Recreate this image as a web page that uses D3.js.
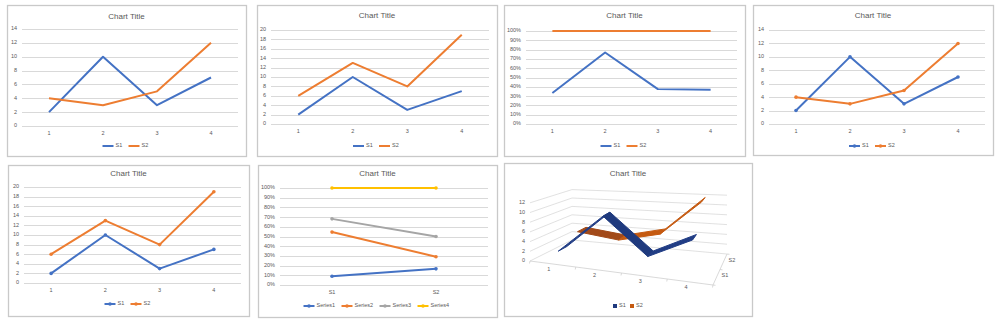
<!DOCTYPE html>
<html><head><meta charset="utf-8">
<script src="https://cdn.jsdelivr.net/npm/d3@7"></script>
<style>html,body{margin:0;padding:0;background:#fff;}svg{display:block;}</style>
</head><body>
<script>
// ---------- data ----------
const categories = ["1", "2", "3", "4"];
const seriesNames = ["S1", "S2"];
const s1Values = [2, 10, 3, 7];
const s2Values = [4, 3, 5, 12];
const byRowSeriesNames = ["Series1", "Series2", "Series3", "Series4"];
const ticks14 = [0, 2, 4, 6, 8, 10, 12, 14];
const ticks20 = [0, 2, 4, 6, 8, 10, 12, 14, 16, 18, 20];
const ticksPct = [0, 0.1, 0.2, 0.3, 0.4, 0.5, 0.6, 0.7, 0.8, 0.9, 1.0];
const ticks3D = [0, 2, 4, 6, 8, 10, 12];
const colors = ["#4472C4", "#ED7D31", "#A5A5A5", "#FFC000"];
const titleText = "Chart Title";

const FONT = "'Liberation Sans', Arial, sans-serif";
const TXT = "#595959";
const GRID = "#d9d9d9";

const svg = d3.select("body").append("svg").attr("width", 1000).attr("height", 324);
svg.append("rect").attr("width", 1000).attr("height", 324).attr("fill", "#fff");

const rows = categories.map((c, i) => ({cat: c, S1: s1Values[i], S2: s2Values[i]}));
const stackAbs = d3.stack().keys(seriesNames)(rows);
const stackPct = d3.stack().keys(seriesNames).offset(d3.stackOffsetExpand)(rows);
const rowsByRow = seriesNames.map((n, r) => {
  const vals = r === 0 ? s1Values : s2Values;
  const o = {cat: n};
  byRowSeriesNames.forEach((k, j) => o[k] = vals[j]);
  return o;
});
const stackByRow = d3.stack().keys(byRowSeriesNames).offset(d3.stackOffsetExpand)(rowsByRow);

function panelFrame(p) {
  svg.append("rect").attr("x", p.x + 0.5).attr("y", p.y + 0.5).attr("width", p.w).attr("height", p.h)
    .attr("fill", "#fff").attr("stroke", "#c9c9c9").attr("stroke-width", 1.3);
  svg.append("text").attr("x", p.x + p.w / 2).attr("y", p.titleY).attr("text-anchor", "middle")
    .attr("dominant-baseline", "middle").attr("font-family", FONT).attr("font-size", 8).attr("fill", TXT)
    .text(titleText);
}

function legend(p, names, cols, cy, itemW, kind) {
  const n = names.length;
  const total = n * itemW - 8;
  const x0 = p.x + p.w / 2 - total / 2 - 2;
  names.forEach((name, i) => {
    const x = x0 + i * itemW;
    if (kind === "square") {
      svg.append("rect").attr("x", x).attr("y", cy - 2).attr("width", 4).attr("height", 4).attr("fill", cols[i]);
      svg.append("text").attr("x", x + 6).attr("y", cy).attr("dominant-baseline", "middle")
        .attr("font-family", FONT).attr("font-size", 5.5).attr("fill", TXT).text(name);
      return;
    }
    svg.append("line").attr("x1", x).attr("x2", x + 11).attr("y1", cy).attr("y2", cy)
      .attr("stroke", cols[i]).attr("stroke-width", 2);
    if (kind === "marker") {
      svg.append("circle").attr("cx", x + 5.5).attr("cy", cy).attr("r", 1.8).attr("fill", cols[i]);
    }
    svg.append("text").attr("x", x + 13).attr("y", cy).attr("dominant-baseline", "middle")
      .attr("font-family", FONT).attr("font-size", 5.5).attr("fill", TXT).text(name);
  });
}

function lineChart(cfg) {
  const p = cfg.panel;
  panelFrame(p);
  const x = d3.scalePoint().domain(cfg.cats).range([cfg.plot.x0, cfg.plot.x1]).padding(0.5);
  const y = d3.scaleLinear().domain(cfg.yDomain).range([cfg.plot.yb, cfg.plot.yt]);
  const g = svg.append("g");
  g.selectAll("line.grid").data(cfg.ticks).enter().append("line")
    .attr("x1", cfg.plot.x0).attr("x2", cfg.plot.x1)
    .attr("y1", d => Math.round(y(d)) + 0.5).attr("y2", d => Math.round(y(d)) + 0.5)
    .attr("stroke", GRID).attr("stroke-width", 1);
  g.selectAll("text.yl").data(cfg.ticks).enter().append("text")
    .attr("x", cfg.plot.x0 - 5).attr("y", d => y(d)).attr("text-anchor", "end")
    .attr("dominant-baseline", "middle").attr("font-family", FONT).attr("font-size", 5.5).attr("fill", TXT)
    .text(cfg.fmt);
  g.selectAll("text.xl").data(cfg.cats).enter().append("text")
    .attr("x", d => x(d)).attr("y", cfg.plot.yb + 8).attr("text-anchor", "middle")
    .attr("dominant-baseline", "middle").attr("font-family", FONT).attr("font-size", 5.5).attr("fill", TXT)
    .text(d => d);
  const line = d3.line().x((d, i) => x(cfg.cats[i])).y(d => y(d));
  cfg.series.forEach((s) => {
    g.append("path").attr("d", line(s.values)).attr("fill", "none").attr("stroke", s.color)
      .attr("stroke-width", 2).attr("stroke-linejoin", "round");
    if (cfg.markers) {
      g.selectAll(null).data(s.values).enter().append("circle")
        .attr("cx", (d, i) => x(cfg.cats[i])).attr("cy", d => y(d)).attr("r", 1.8).attr("fill", s.color);
    }
  });
  legend(p, cfg.series.map(s => s.name), cfg.series.map(s => s.color), cfg.legendY, cfg.itemW,
         cfg.markers ? "marker" : "line");
}

const fmtNum = d => d3.format("d")(d);
const fmtPct = d => d3.format(".0%")(d);

lineChart({panel: {x: 7, y: 5, w: 239, h: 151, titleY: 17}, plot: {x0: 22, x1: 238, yt: 29, yb: 126},
  cats: categories, yDomain: [0, 14], ticks: ticks14, fmt: fmtNum, legendY: 146, itemW: 26,
  series: [{name: seriesNames[0], values: s1Values, color: colors[0]}, {name: seriesNames[1], values: s2Values, color: colors[1]}]});
lineChart({panel: {x: 257, y: 5, w: 240, h: 151, titleY: 16}, plot: {x0: 271, x1: 489, yt: 30, yb: 124},
  cats: categories, yDomain: [0, 20], ticks: ticks20, fmt: fmtNum, legendY: 146, itemW: 26,
  series: stackAbs.map((s, i) => ({name: s.key, values: s.map(d => d[1]), color: colors[i]}))});
lineChart({panel: {x: 504, y: 5, w: 241, h: 151, titleY: 16}, plot: {x0: 526, x1: 737, yt: 31, yb: 124},
  cats: categories, yDomain: [0, 1], ticks: ticksPct, fmt: fmtPct, legendY: 146, itemW: 26,
  series: stackPct.map((s, i) => ({name: s.key, values: s.map(d => d[1]), color: colors[i]}))});
lineChart({panel: {x: 753, y: 5, w: 240, h: 150, titleY: 16}, plot: {x0: 769, x1: 985, yt: 30, yb: 124},
  cats: categories, yDomain: [0, 14], ticks: ticks14, fmt: fmtNum, legendY: 146, itemW: 26, markers: true,
  series: [{name: seriesNames[0], values: s1Values, color: colors[0]}, {name: seriesNames[1], values: s2Values, color: colors[1]}]});
lineChart({panel: {x: 8, y: 165, w: 241, h: 151, titleY: 174}, plot: {x0: 24, x1: 241, yt: 187, yb: 283},
  cats: categories, yDomain: [0, 20], ticks: ticks20, fmt: fmtNum, legendY: 304, itemW: 26, markers: true,
  series: stackAbs.map((s, i) => ({name: s.key, values: s.map(d => d[1]), color: colors[i]}))});
lineChart({panel: {x: 258, y: 165, w: 239, h: 152, titleY: 174}, plot: {x0: 280, x1: 488, yt: 188, yb: 285},
  cats: seriesNames, yDomain: [0, 1], ticks: ticksPct, fmt: fmtPct, legendY: 306, itemW: 38, markers: true,
  series: stackByRow.map((s, i) => ({name: s.key, values: s.map(d => d[1]), color: colors[i]}))});

(function () {
  const p = {x: 504, y: 163, w: 248, h: 153, titleY: 174};
  panelFrame(p);
  const FL = [530, 261], FR = [713, 285], BL = [572, 240], BR = [727, 254];
  const sc = {FL: 4.85, FR: 5.6, BL: 4.2, BR: 4.9};
  const lerp = (a, b, t) => a + (b - a) * t;
  const vScale = d3.scaleLinear().domain([0, 1]).range([0, 1]);
  function proj(u, t, v) {
    const fx = lerp(FL[0], FR[0], u), fy = lerp(FL[1], FR[1], u);
    const bx = lerp(BL[0], BR[0], u), by = lerp(BL[1], BR[1], u);
    const s = lerp(lerp(sc.FL, sc.FR, u), lerp(sc.BL, sc.BR, u), t);
    return [lerp(fx, bx, t), lerp(fy, by, t) - vScale(v) * s];
  }
  const catU = d3.scalePoint().domain(categories).range([0, 1]).padding(0.5);
  const depthT = d3.scalePoint().domain(seriesNames).range([0, 1]).padding(0.5);
  const g = svg.append("g");
  ticks3D.forEach(v => {
    const a = proj(0, 0, v), b = proj(0, 1, v), c = proj(1, 1, v);
    g.append("polyline").attr("points", [a, b, c].map(q => q.join(",")).join(" "))
      .attr("fill", "none").attr("stroke", GRID).attr("stroke-width", 0.8);
    g.append("text").attr("x", a[0] - 5).attr("y", a[1]).attr("text-anchor", "end")
      .attr("dominant-baseline", "middle").attr("font-family", FONT).attr("font-size", 5.5).attr("fill", TXT).text(v);
  });
  const axisCol = "#cfcfcf";
  g.append("polyline").attr("points", [proj(0, 0, 0), proj(1, 0, 0), proj(1, 1, 0)].map(q => q.join(",")).join(" "))
    .attr("fill", "none").attr("stroke", axisCol).attr("stroke-width", 0.8);
  [0, 0.25, 0.5, 0.75, 1].forEach(u => {
    const a = proj(u, 0, 0);
    g.append("line").attr("x1", a[0]).attr("y1", a[1]).attr("x2", a[0] - 0.5).attr("y2", a[1] + 2.5)
      .attr("stroke", axisCol).attr("stroke-width", 0.8);
  });
  [0, 0.5, 1].forEach(t => {
    const a = proj(1, t, 0);
    g.append("line").attr("x1", a[0]).attr("y1", a[1]).attr("x2", a[0] + 2.5).attr("y2", a[1] + 0.3)
      .attr("stroke", axisCol).attr("stroke-width", 0.8);
  });
  categories.forEach(c => {
    const a = proj(catU(c), 0, 0);
    g.append("text").attr("x", a[0] - 4).attr("y", a[1] + 6).attr("text-anchor", "middle")
      .attr("dominant-baseline", "middle").attr("font-family", FONT).attr("font-size", 5.5).attr("fill", TXT).text(c);
  });
  seriesNames.forEach(n => {
    const a = proj(1, depthT(n), 0);
    g.append("text").attr("x", a[0] + 5).attr("y", a[1] - 1.5).attr("text-anchor", "start")
      .attr("dominant-baseline", "middle").attr("font-family", FONT).attr("font-size", 5.5).attr("fill", TXT).text(n);
  });
  const ribbonCols = [{main: "#1f3a7e", alt: "#213d85"}, {main: "#a24a19", alt: "#c55a11"}];
  const halfDepth = 0.11;
  [1, 0].forEach(si => {
    const vals = si === 0 ? s1Values : s2Values;
    const t = depthT(seriesNames[si]);
    for (let i = 0; i < vals.length - 1; i++) {
      const u0 = catU(categories[i]), u1 = catU(categories[i + 1]);
      const pts = [proj(u0, t - halfDepth, vals[i]), proj(u1, t - halfDepth, vals[i + 1]),
                   proj(u1, t + halfDepth, vals[i + 1]), proj(u0, t + halfDepth, vals[i])];
      const rising = vals[i + 1] > vals[i];
      const col = rising ? ribbonCols[si].alt : ribbonCols[si].main;
      g.append("polygon").attr("points", pts.map(q => q.join(",")).join(" "))
        .attr("fill", col).attr("stroke", col).attr("stroke-width", 1).attr("stroke-linejoin", "round");
    }
  });
  legend(p, seriesNames, [ribbonCols[0].main, ribbonCols[1].alt], 306, 17, "square");
})();
</script>
</body></html>
